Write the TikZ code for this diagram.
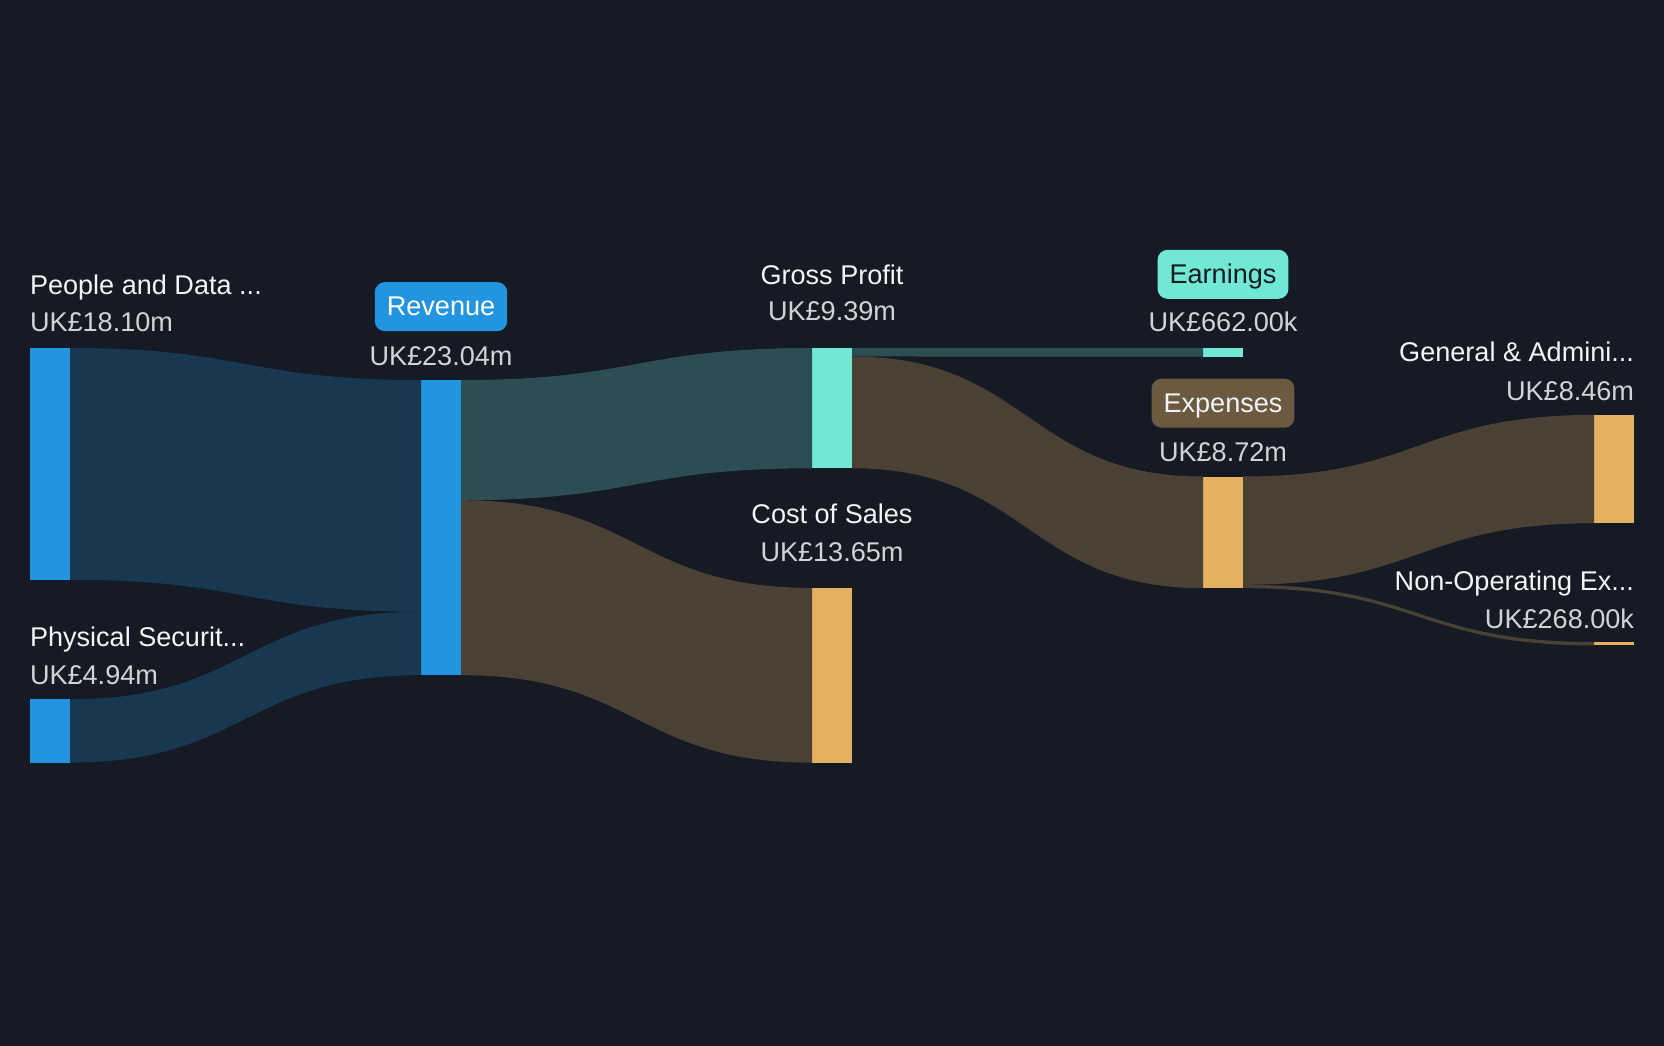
\documentclass[tikz,border=0pt]{standalone}
\usepackage{fontspec}
\setmainfont{Liberation Sans}
\usepackage{xcolor}
\definecolor{bgc}{HTML}{151A25}
\definecolor{barblue}{HTML}{2394DF}
\definecolor{flowblue}{HTML}{183851}
\definecolor{barteal}{HTML}{70E8D4}
\definecolor{flowteal}{HTML}{2C4D51}
\definecolor{barorange}{HTML}{E4B062}
\definecolor{flowbrown}{HTML}{4A4034}
\definecolor{expfill}{HTML}{6B5940}
\definecolor{namec}{HTML}{F2F4F6}
\definecolor{valc}{HTML}{D2D3D6}
\newcommand{\band}[5]{\fill[#1] (#2) .. controls +(175.5,0) and +(-175.5,0) .. (#4) -- (#5) .. controls +(-175.5,0) and +(175.5,0) .. (#3) -- cycle;}

\begin{document}
\begin{tikzpicture}[x=0.01cm,y=-0.01cm]
\tikzstyle{every node}+=[inner sep=0pt,outer sep=0pt]
\tikzstyle{bar}=[rectangle,minimum width=0.4cm,anchor=north west]
\tikzstyle{lbltxt}=[text=namec,font=\fontsize{7.7}{9}\selectfont]
\tikzstyle{valtxt}=[text=valc,font=\fontsize{7.7}{9}\selectfont]
\tikzstyle{badge}=[rounded corners=0.1cm,minimum height=0.49cm,inner xsep=0.12cm,text height=0.72em,text depth=0.2em,font=\fontsize{7.7}{9}\selectfont]
\fill[bgc] (0,0) rectangle (1664,1046);
\useasboundingbox (0,0) rectangle (1664,1046);
\node[bar,fill=barblue,minimum height=2.317cm] (ppl) at (30,348) {};
\node[bar,fill=barblue,minimum height=0.632cm] (phy) at (30,699.3) {};
\node[bar,fill=barblue,minimum height=2.95cm] (rev) at (421,380) {};
\node[bar,fill=barteal,minimum height=1.202cm] (gp) at (812,348) {};
\node[bar,fill=barorange,minimum height=1.747cm] (cos) at (812,587.9) {};
\node[bar,fill=barteal,minimum height=0.085cm] (earn) at (1203,348) {};
\node[bar,fill=barorange,minimum height=1.116cm] (exp) at (1203,476.5) {};
\node[bar,fill=barorange,minimum height=1.083cm] (gen) at (1594,414.9) {};
\node[bar,fill=barorange,minimum height=0.034cm] (nop) at (1594,642) {};
\coordinate (revP) at (421,611.7);
\coordinate (revG) at (461,500.2);
\coordinate (gpE) at (852,356.5);
\coordinate (expG) at (1243,584.8);
\band{flowblue}{ppl.north east}{ppl.south east}{rev.north west}{revP}
\band{flowblue}{phy.north east}{phy.south east}{revP}{rev.south west}
\band{flowteal}{rev.north east}{revG}{gp.north west}{gp.south west}
\band{flowbrown}{revG}{rev.south east}{cos.north west}{cos.south west}
\band{flowteal}{gp.north east}{gpE}{earn.north west}{earn.south west}
\band{flowbrown}{gpE}{gp.south east}{exp.north west}{exp.south west}
\band{flowbrown}{exp.north east}{expG}{gen.north west}{gen.south west}
\band{flowbrown}{expG}{exp.south east}{nop.north west}{nop.south west}
\node[lbltxt,anchor=base west] (pplname) at (30,295) {People and Data ...};
\node[valtxt,anchor=base west] (pplval) at (30,332) {UK£18.10m};
\node[lbltxt,anchor=base west] (phyname) at (30,646.3) {Physical Securit...};
\node[valtxt,anchor=base west] (phyval) at (30,684.5) {UK£4.94m};
\node[badge,fill=barblue,text=white] (revbadge) at (441,306.7) {Revenue};
\node[valtxt,anchor=base] (revval) at (441,366) {UK£23.04m};
\node[lbltxt,anchor=base] (gpname) at (832,284.4) {Gross Profit};
\node[valtxt,anchor=base] (gpval) at (832,320.5) {UK£9.39m};
\node[lbltxt,anchor=base] (cosname) at (832,523.2) {Cost of Sales};
\node[valtxt,anchor=base] (cosval) at (832,561.4) {UK£13.65m};
\node[badge,fill=barteal,text=bgc] (earnbadge) at (1223,274.3) {Earnings};
\node[valtxt,anchor=base] (earnval) at (1223,332) {UK£662.00k};
\node[badge,fill=expfill,text=namec] (expbadge) at (1223,403.2) {Expenses};
\node[valtxt,anchor=base] (expval) at (1223,461.6) {UK£8.72m};
\node[lbltxt,anchor=base east] (genname) at (1634,361.9) {General \& Admini...};
\node[valtxt,anchor=base east] (genval) at (1634,400) {UK£8.46m};
\node[lbltxt,anchor=base east] (nopname) at (1634,590) {Non-Operating Ex...};
\node[valtxt,anchor=base east] (nopval) at (1634,628.2) {UK£268.00k};
\end{tikzpicture}
\end{document}
